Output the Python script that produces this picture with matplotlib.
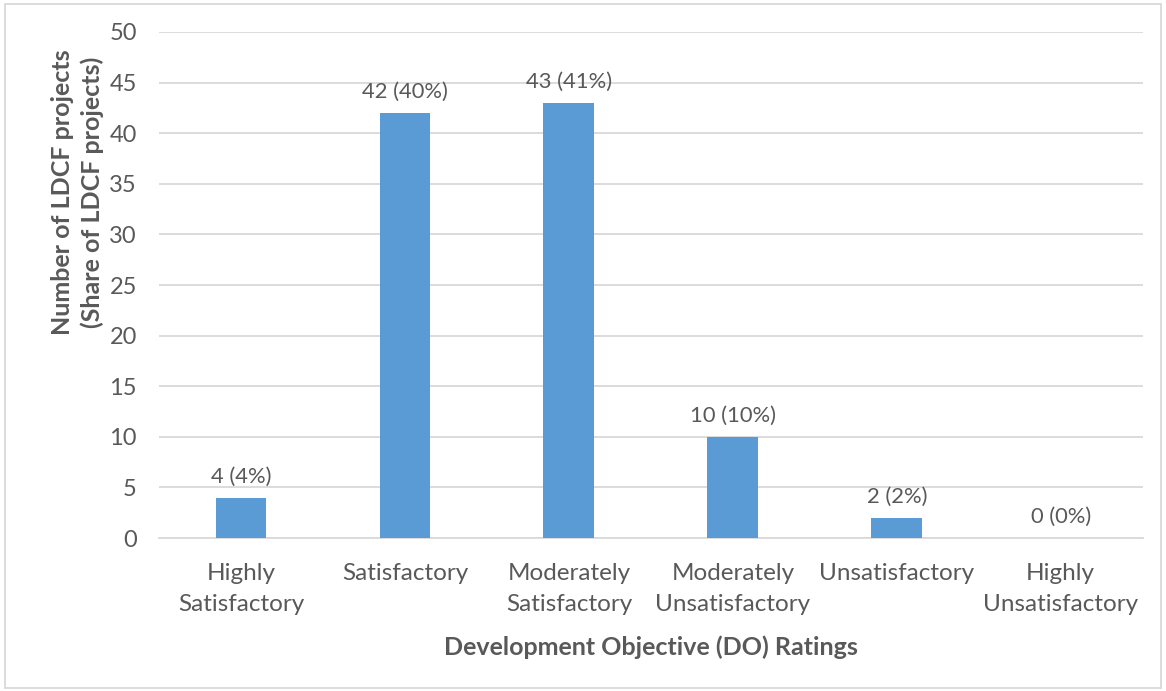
import matplotlib.pyplot as plt
from matplotlib.patches import Rectangle

# DO ratings of LDCF projects
ratings = ["Highly\nSatisfactory", "Satisfactory", "Moderately\nSatisfactory",
           "Moderately\nUnsatisfactory", "Unsatisfactory", "Highly\nUnsatisfactory"]
counts = [4, 42, 43, 10, 2, 0]
shares = [4, 40, 41, 10, 2, 0]

plt.rcParams['font.family'] = ['Lato', 'DejaVu Sans']
text_color = '#595959'

fig = plt.figure(figsize=(11.66, 6.91), dpi=100)
ax = fig.add_axes([0.1364, 0.2214, 0.8436, 0.7323])

x = range(len(ratings))
ax.bar(x, counts, width=0.31, color='#5B9BD5', zorder=3)

for i, (c, s) in enumerate(zip(counts, shares)):
    ax.text(i, c + 1.1, f"{c} ({s}%)", ha='center', va='bottom',
            fontsize=15.8, color=text_color)

ax.set_xlim(-0.5, len(ratings) - 0.5)
ax.set_ylim(0, 50)
ax.set_yticks(range(0, 51, 5))
ax.set_xticks(list(x))
ax.set_xticklabels(ratings, fontsize=17.5, color=text_color, linespacing=1.6)
ax.tick_params(axis='y', labelsize=17, labelcolor=text_color, length=0, pad=16)
ax.tick_params(axis='x', length=0, pad=18)

ax.grid(axis='y', color='#D9D9D9', linewidth=1.3, zorder=0)
for side in ['top', 'right', 'left']:
    ax.spines[side].set_visible(False)
ax.spines['bottom'].set_color('#D9D9D9')
ax.spines['bottom'].set_linewidth(1.3)

xl = ax.set_xlabel("Development Objective (DO) Ratings", fontsize=18,
                   fontweight='bold', color=text_color)
xl.set_va('center')
ax.xaxis.set_label_coords(0.5, -0.2154)

yl = ax.set_ylabel("Number of LDCF projects\n(Share of LDCF projects)", fontsize=18,
                   fontweight='bold', color=text_color, linespacing=1.3)
yl.set_va('center')
ax.yaxis.set_label_coords(-0.0828, 0.684)

# light frame around the whole chart
fig.patches.append(Rectangle((0.004, 0.004), 0.992, 0.99, transform=fig.transFigure,
                             fill=False, edgecolor='#D9D9D9', linewidth=1.3))

fig.savefig("out.png", dpi=100)
